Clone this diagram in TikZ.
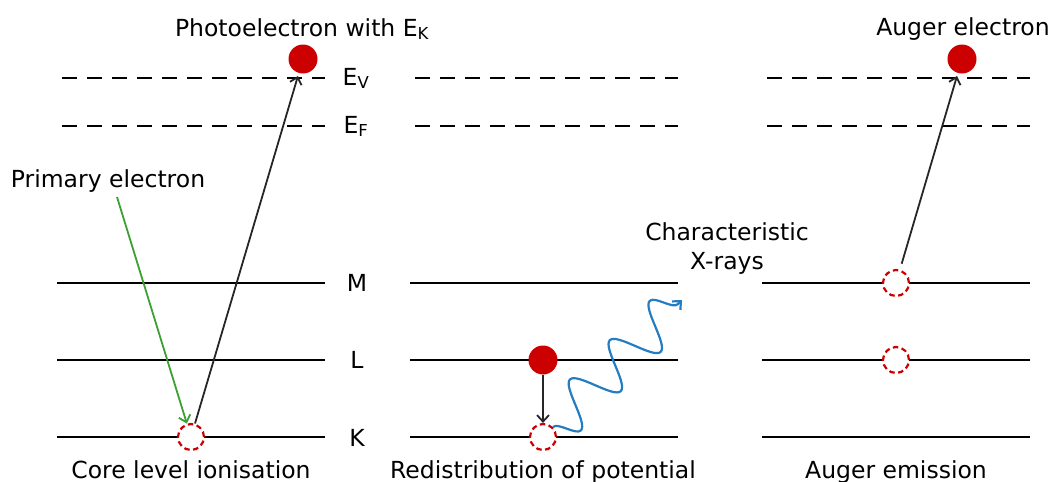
\documentclass[tikz,border=0pt]{standalone}
\usepackage{fontspec}
\setmainfont{DejaVu Sans}
\usetikzlibrary{positioning,arrows.meta,calc,decorations.pathmorphing}
\definecolor{HoleRed}{RGB}{204,0,0}
\definecolor{PrimGreen}{RGB}{60,160,50}
\definecolor{RayBlue}{RGB}{35,125,195}

\begin{document}
\begin{tikzpicture}[x=1pt, y=-1pt,
    every node/.style={font=\fontsize{23.5}{29}\selectfont, align=center, inner sep=0pt},
    level/.style={line width=2.3pt},
    vac/.style={line width=2.3pt, dash pattern=on 15pt off 10pt},
    elec/.style={circle, fill=HoleRed, minimum size=29pt},
    hole/.style={circle, draw=HoleRed, fill=white, line width=2.2pt,
                 dash pattern=on 5.5pt off 3.5pt, minimum size=26pt},
    jump/.style={-{Straight Barb[length=6.5pt, width=12pt]}, line width=1.8pt, black!85}]
  \useasboundingbox (0,0) rectangle (1053,482);
  % energy levels of the three panels
  \foreach \x in {57,410,762} {
    \draw[vac] (\x+5,78) -- (\x+268,78);
    \draw[vac] (\x+5,126) -- (\x+268,126);
    \foreach \y in {283,360,437}
      \draw[level] (\x,\y) -- (\x+268,\y);
  }
  \node[anchor=base] (lv) at (356,85) {E\textsubscript{V}};
  \node[anchor=base] (lf) at (356,133) {E\textsubscript{F}};
  \node[anchor=base] (lm) at (357,291) {M};
  \node[anchor=base] (ll) at (357,368) {L};
  \node[anchor=base] (lk) at (357,446) {K};

  % core level ionisation
  \node[hole] (h1) at (191,437) {};
  \node[elec] (e1) at (303,59) {};
  \node[anchor=base] (photo) at (302,36) {Photoelectron with E\textsubscript{K}};
  \node[anchor=base] (prim) at (108,187) {Primary electron};
  \coordinate (pstart) at (117,197);
  \draw[jump, PrimGreen] (pstart) -- (h1);
  \draw[jump, shorten >=3pt] (h1) -- (e1);
  \node[anchor=base] (c1) at (191,478) {Core level ionisation};

  % redistribution of potential
  \node[hole] (h2) at (543,437) {};
  \node[elec] (e2) at (543,360) {};
  \draw[jump] (e2) -- (h2);
  \node (xray) at (727,249) {Characteristic\\X-rays};
  \coordinate (xend) at (682,300);
  \draw[RayBlue, line width=2.2pt, -{Straight Barb[length=6.5pt, width=12pt]},
        decorate, decoration={snake, mirror, amplitude=22pt, segment length=56pt}]
        (h2.north east) -- (xend);
  \node[anchor=base] (c2) at (543,478) {Redistribution of potential};

  % auger emission
  \node[hole] (h3m) at (896,283) {};
  \node[hole] (h3l) at (896,360) {};
  \node[elec] (e3) at (962,59) {};
  \node[anchor=base] (auger) at (963,35) {Auger electron};
  \draw[jump, shorten <=6pt, shorten >=3pt] (h3m) -- (e3);
  \node[anchor=base] (c3) at (896,478) {Auger emission};
\end{tikzpicture}
\end{document}
